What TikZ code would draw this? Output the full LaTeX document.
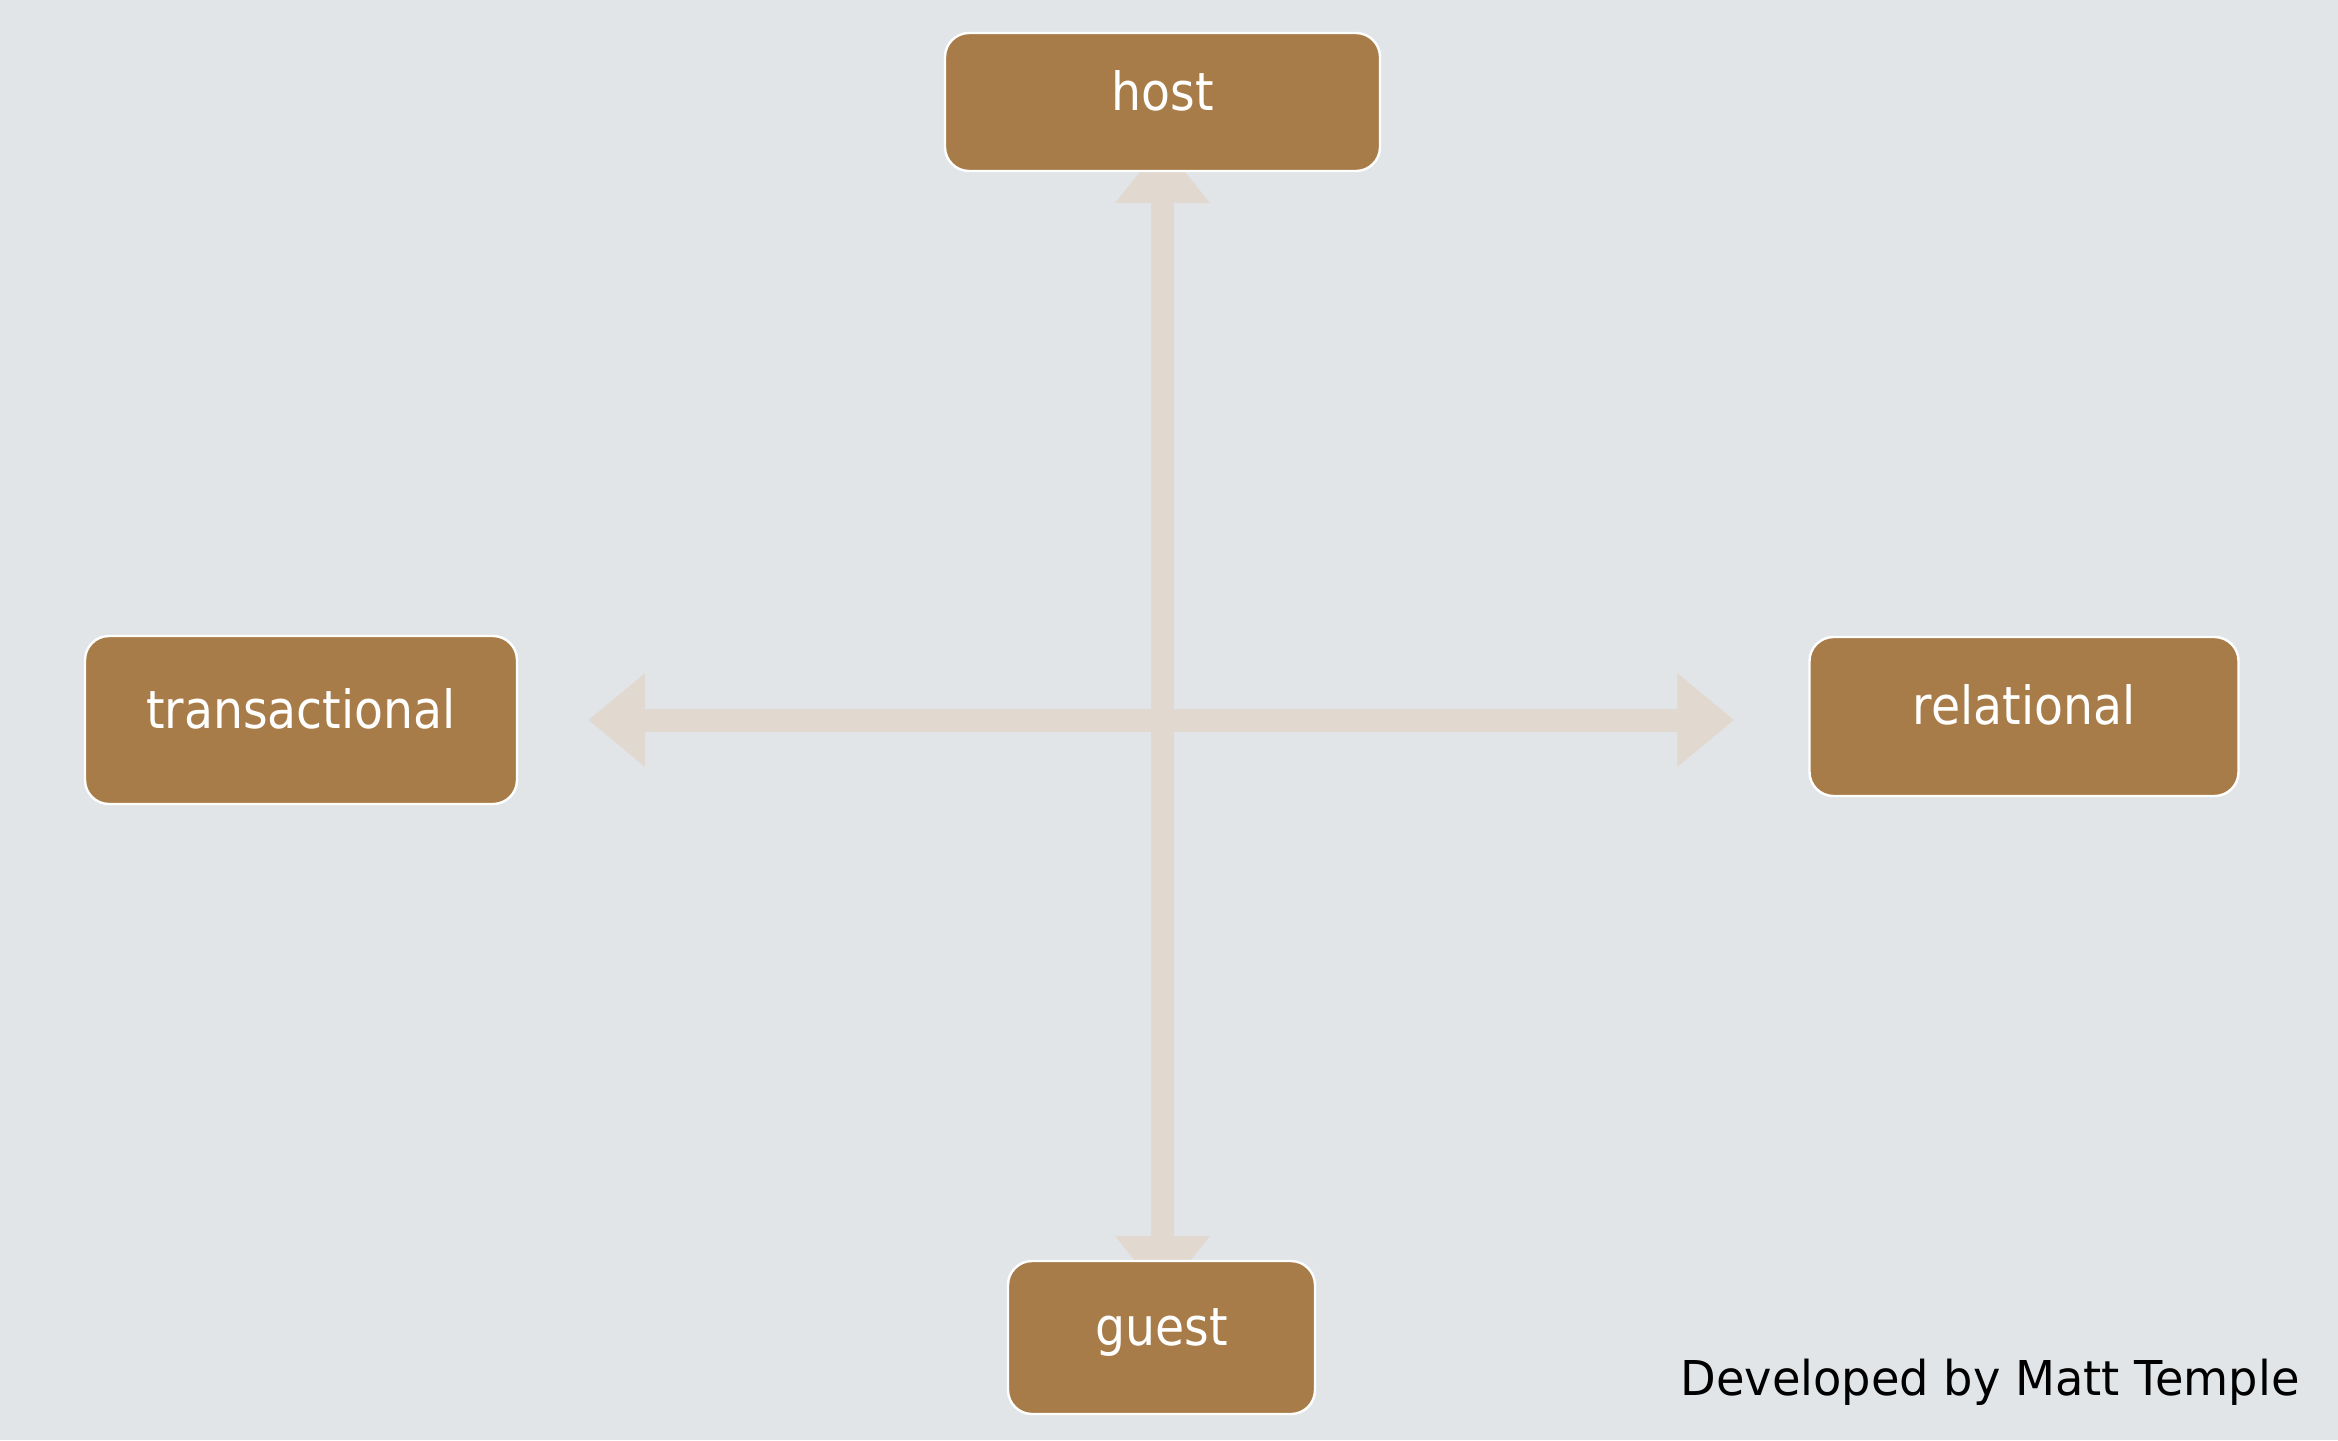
\documentclass[tikz,border=0pt]{standalone}
\usepackage{fontspec}
\newfontfamily\boxfont{DejaVu Sans}[FakeStretch=0.9]
\newfontfamily\footfont{DejaVu Sans}[FakeStretch=0.965]
\usetikzlibrary{arrows.meta}
\pgfdeclarelayer{bg}
\pgfsetlayers{bg,main}
\definecolor{bgc}{HTML}{E1E5E8}
\definecolor{boxc}{HTML}{A87C48}
\definecolor{arrc}{HTML}{E1D8D0}
\begin{document}
\begin{tikzpicture}[x=0.5pt,y=-0.5pt,
  card/.style={draw=white, line width=1.2pt, fill=boxc, rounded corners=12pt,
    text=white, font=\boxfont\fontsize{26.3}{30}\selectfont,
    text height=0.9em, text depth=0.1em, inner sep=0pt},
  harrow/.style={draw=arrc, line width=11.5pt,
    {Triangle[length=28.5pt,width=45pt]}-{Triangle[length=28.5pt,width=45pt]}},
  varrow/.style={draw=arrc, line width=11.5pt,
    {Triangle[length=30pt,width=45.5pt]}-{Triangle[length=30pt,width=45.5pt]}},
  credit/.style={anchor=base east, inner sep=0pt, text=black,
    font=\footfont\fontsize{24}{28}\selectfont}]
\useasboundingbox (0,0) rectangle (2338,1440);
\node[card, minimum width=217.5pt, minimum height=69pt] (host) at (1162.5,102) {host};
\node[card, minimum width=153.5pt, minimum height=76.5pt] (guest) at (1161.5,1337.5) {guest};
\node[card, minimum width=216pt, minimum height=84pt] (transactional) at (301,720) {transactional};
\node[card, minimum width=214.5pt, minimum height=79.5pt] (relational) at (2024,716.5) {relational};
\node[credit] (dev) at (2300,1395) {Developed by Matt Temple};
\begin{pgfonlayer}{bg}
  \fill[bgc] (0,0) rectangle (2338,1440);
  \draw[harrow, shorten <=35pt, shorten >=37pt] (transactional.east) -- (transactional.east -| relational.west);
  \draw[varrow, shorten <=-14.5pt, shorten >=-18pt] (host.south) -- (host.south |- guest.north);
\end{pgfonlayer}
\end{tikzpicture}
\end{document}
